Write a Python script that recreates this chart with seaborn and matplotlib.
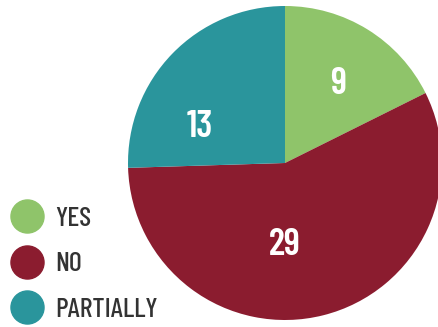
import seaborn as sns
import matplotlib.pyplot as plt
from matplotlib.lines import Line2D

categories = ["YES", "NO", "PARTIALLY"]
counts = [9, 29, 13]
colors = ["#8FC46A", "#8B1C2F", "#2A959C"]

sns.set_theme(style="white")
plt.rcParams["font.family"] = ["Barlow Condensed", "DejaVu Sans"]

W, H = 438, 327
fig = plt.figure(figsize=(W / 100, H / 100), dpi=100)
cx, cy, r = 285, 163, 157
ax = fig.add_axes([(cx - r) / W, (H - cy - r) / H, 2 * r / W, 2 * r / H])

wedges, _ = ax.pie(counts, colors=colors, startangle=90, counterclock=False,
                   wedgeprops=dict(linewidth=0))
ax.set_xlim(-1, 1)
ax.set_ylim(-1, 1)
ax.set_aspect("equal")
ax.axis("off")

# label spots (fraction of radius), hand placed like the original
label_xy = [(0.34, 0.50), (0.0, -0.52), (-0.54, 0.23)]
for (x, y), n in zip(label_xy, counts):
    ax.text(x, y, str(n), color="white", fontsize=27, fontweight=600,
            ha="center", va="center")

handles = [Line2D([], [], marker="o", linestyle="", markersize=23.8,
                  markerfacecolor=c, markeredgecolor=c) for c in colors]
fig.legend(handles, categories, loc="lower left", bbox_to_anchor=(-0.034, -0.043),
           frameon=False, labelspacing=0.75, handletextpad=0.2,
           borderpad=0.2, handlelength=1.64,
           prop=dict(family="Barlow Condensed", weight=500, size=20))
for t in fig.legends[0].get_texts():
    t.set_color("#333333")

fig.savefig("out.png", dpi=100)
